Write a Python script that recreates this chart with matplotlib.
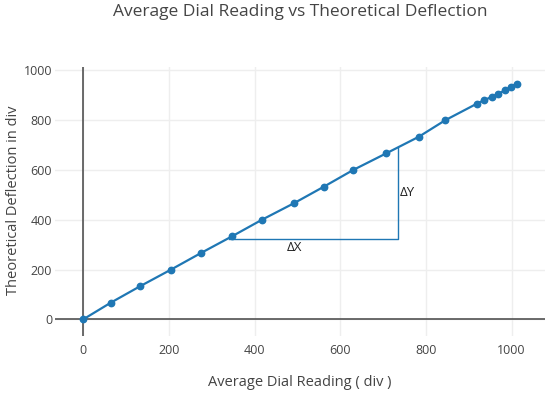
import matplotlib
matplotlib.use("Agg")
import matplotlib.pyplot as plt

# Data
dial_reading = [0, 64, 133, 205, 275, 347, 417, 492, 562, 630, 707, 783, 845, 919, 935, 955, 969, 985, 998, 1012]
deflection = [0, 66.7, 133.3, 200, 266.7, 333.3, 400, 466.7, 533.3, 600, 666.7, 733.3, 800, 866.7, 880, 895, 907, 920, 935, 947]
tri_x = [340, 734, 734]
tri_y = [322, 322, 688]
xticks = [0, 200, 400, 600, 800, 1000]
yticks = [0, 200, 400, 600, 800, 1000]

plt.rcParams['font.family'] = ['Open Sans', 'DejaVu Sans']
fig = plt.figure(figsize=(5.51, 3.95), dpi=100)
ax = fig.add_axes([55/551, 59/395, 490/551, 269/395])

color = '#1f77b4'
ax.plot(tri_x, tri_y, color=color, lw=1, zorder=3)
ax.plot(dial_reading, deflection, color=color, lw=1.6, marker='o', ms=4.6, zorder=4)

ax.text(494, 288, 'ΔX', ha='center', va='center', fontsize=9.5, color='#222')
ax.text(740, 510, 'ΔY', ha='left', va='center', fontsize=9.5, color='#222')

ax.set_xlim(-66, 1078)
ax.set_ylim(-67, 1014)
ax.set_xticks(xticks)
ax.set_yticks(yticks)
ax.grid(True, color='#eeeeee', lw=1)
ax.set_axisbelow(True)
for s in ax.spines.values():
    s.set_visible(False)
ax.axhline(0, color='#444444', lw=1.1, zorder=2)
ax.axvline(0, color='#444444', lw=1.1, zorder=2)
ax.tick_params(axis='x', length=0, labelsize=9, colors='#444444', pad=6)
ax.tick_params(axis='y', length=0, labelsize=9, colors='#444444', pad=2)

fig.text(300/551, 1 - 383/395, 'Average Dial Reading ( div )',
         ha='center', va='center', fontsize=10.5, color='#444444')
fig.text(14/551, 1 - 200/395, 'Theoretical Deflection in div', rotation=90,
         ha='center', va='center', fontsize=10.5, color='#444444')
fig.text(300/551, 1 - 12/395, 'Average Dial Reading vs Theoretical Deflection',
         ha='center', va='center', fontsize=12.5, color='#444444')

fig.savefig('out.png', dpi=100)
